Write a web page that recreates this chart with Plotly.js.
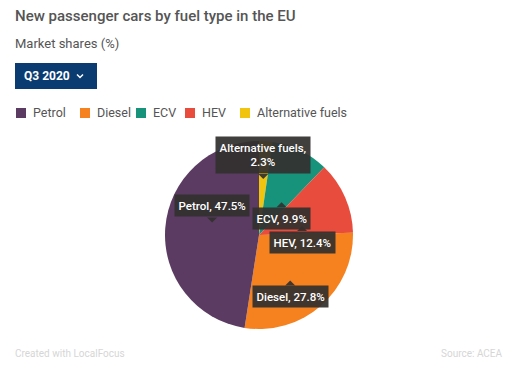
<!DOCTYPE html>
<html>
<head>
<meta charset="utf-8">
<script src="https://cdn.plot.ly/plotly-3.0.1.min.js"></script>
<style>
  html, body { margin: 0; padding: 0; background: #fff; }
  #chart { width: 519px; height: 371px; }
</style>
</head>
<body>
<div id="chart"></div>
<script>
// ---- data ----
const categories = ['Petrol', 'Diesel', 'ECV', 'HEV', 'Alternative fuels'];
const shares = [47.5, 27.8, 9.9, 12.4, 2.3];
const colors = ['#5b3b62', '#f5821f', '#16937a', '#e74c3c', '#f1c40f'];
// clockwise drawing order starting at 12 o'clock (indices into categories)
const drawOrder = [4, 2, 3, 1, 0];
const chartTitle = 'New passenger cars by fuel type in the EU';
const subTitle = 'Market shares (%)';
const periodLabel = 'Q3 2020';
const creditText = 'Created with LocalFocus';
const sourceText = 'Source: ACEA';

// ---- label styles (radius fraction, tip offsets, box side) ----
const labelRadius = [0.5, 0.6, 0.4, 0.5, 0.63];
const labelTipOffset = [[0, -9], [-6, 3], [6, 1], [0, 10], [0, 3]];
const labelSide = ['above', 'below', 'below', 'below', 'above'];
const labelBreak = [false, false, false, false, true];
// legend item left edges (pixels)
const legendX = [16, 80, 136, 185, 240];

const W = 519, H = 371;
const px = x => x / W;
const py = y => 1 - y / H;

// pie geometry (pixels)
const pieLeft = 165, pieRight = 353, pieTop = 141, pieBottom = 329;
const cx = (pieLeft + pieRight) / 2, cy = (pieTop + pieBottom) / 2;
const R = (pieRight - pieLeft) / 2;

const font = 'Roboto, "Open Sans", sans-serif';

const ordLabels = drawOrder.map(i => categories[i]);
const ordValues = drawOrder.map(i => shares[i]);
const ordColors = drawOrder.map(i => colors[i]);

const trace = {
  type: 'pie',
  labels: ordLabels,
  values: ordValues,
  marker: { colors: ordColors, line: { width: 0 } },
  sort: false,
  direction: 'clockwise',
  rotation: 0,
  textinfo: 'none',
  hoverinfo: 'none',
  showlegend: false,
  domain: { x: [px(pieLeft), px(pieRight)], y: [py(pieBottom), py(pieTop)] }
};

const annotations = [];
const shapes = [];

// slice labels computed from data
const total = ordValues.reduce((a, b) => a + b, 0);
let cum = 0;
drawOrder.forEach((ci, k) => {
  const v = ordValues[k];
  const mid = (cum + v / 2) / total * 2 * Math.PI;
  cum += v;
  const r = R * labelRadius[ci];
  const tx = cx + r * Math.sin(mid) + labelTipOffset[ci][0];
  const ty = cy - r * Math.cos(mid) + labelTipOffset[ci][1];
  const above = labelSide[ci] === 'above';
  const txt = categories[ci] + ',' + (labelBreak[ci] ? '<br>' : ' ') + shares[ci] + '%';
  annotations.push({
    xref: 'paper', yref: 'paper', x: px(tx), y: py(ty),
    xanchor: 'center', yanchor: above ? 'bottom' : 'top',
    yshift: above ? 5 : -5,
    text: txt, showarrow: false,
    font: { family: font, size: 11.5, color: '#ffffff', weight: 500 },
    bgcolor: 'rgba(51,48,46,0.93)', borderpad: 3.5, align: 'center'
  });
  const d = above ? -5 : 5;
  shapes.push({
    type: 'path', xref: 'paper', yref: 'paper',
    path: `M ${px(tx - 5)} ${py(ty + d)} L ${px(tx + 5)} ${py(ty + d)} L ${px(tx)} ${py(ty)} Z`,
    fillcolor: 'rgba(51,48,46,0.93)', line: { width: 0 }
  });
});

// subtitle
annotations.push({
  xref: 'paper', yref: 'paper', x: px(13), y: py(44), xanchor: 'left', yanchor: 'middle',
  text: subTitle, showarrow: false, font: { family: font, size: 13, color: '#555555' }
});

// period button
shapes.push({
  type: 'rect', xref: 'paper', yref: 'paper',
  x0: px(15), x1: px(97), y0: py(89), y1: py(63),
  fillcolor: '#0b3c71', line: { width: 0 }
});
annotations.push({
  xref: 'paper', yref: 'paper', x: px(22), y: py(76), xanchor: 'left', yanchor: 'middle',
  text: '<b>' + periodLabel + '</b>', showarrow: false,
  font: { family: font, size: 12, color: '#ffffff' }
});
shapes.push({
  type: 'path', xref: 'paper', yref: 'paper',
  path: `M ${px(77)} ${py(74.5)} L ${px(80)} ${py(77.5)} L ${px(83)} ${py(74.5)}`,
  line: { color: '#ffffff', width: 1.5 }
});

// custom legend
const legendSize = 12.5;
const ly = 113;
categories.forEach((c, i) => {
  const lx = legendX[i];
  shapes.push({
    type: 'rect', xref: 'paper', yref: 'paper',
    x0: px(lx), x1: px(lx + 10), y0: py(ly + 5), y1: py(ly - 5),
    fillcolor: colors[i], line: { width: 0 }
  });
  annotations.push({
    xref: 'paper', yref: 'paper', x: px(lx + 15), y: py(ly), xanchor: 'left', yanchor: 'middle',
    text: c, showarrow: false, font: { family: font, size: legendSize, color: '#555555' }
  });
});

// footer
annotations.push({
  xref: 'paper', yref: 'paper', x: px(13), y: py(353), xanchor: 'left', yanchor: 'middle',
  text: creditText, showarrow: false, font: { family: font, size: 10, color: '#d6d6d6' }
});
annotations.push({
  xref: 'paper', yref: 'paper', x: px(505), y: py(353), xanchor: 'right', yanchor: 'middle',
  text: sourceText, showarrow: false, font: { family: font, size: 10, color: '#d6d6d6' }
});

const layout = {
  width: W, height: H,
  margin: { l: 0, r: 0, t: 0, b: 0 },
  paper_bgcolor: '#ffffff',
  title: {
    text: chartTitle, x: px(15), xanchor: 'left', xref: 'container',
    y: py(16), yanchor: 'middle', yref: 'container',
    font: { family: font, size: 15, color: '#555555', weight: 500 }
  },
  showlegend: false,
  annotations: annotations,
  shapes: shapes
};

Plotly.newPlot('chart', [trace], layout, { displayModeBar: false, staticPlot: true });
</script>
</body>
</html>
